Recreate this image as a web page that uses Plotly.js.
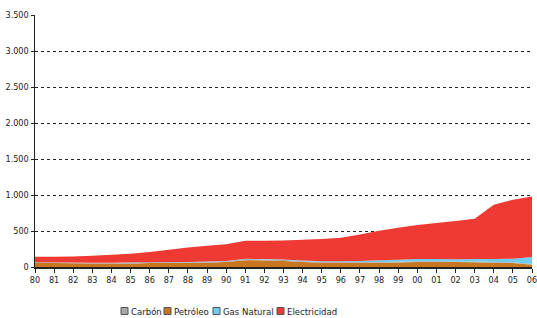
<!DOCTYPE html>
<html><head><meta charset="utf-8">
<script src="https://cdn.plot.ly/plotly-3.0.1.min.js"></script>
<style>html,body{margin:0;padding:0;background:#fff}#c{width:537px;height:318px}</style>
</head><body><div id="c"></div>
<script>
const years = [1980,1981,1982,1983,1984,1985,1986,1987,1988,1989,1990,1991,1992,1993,1994,1995,1996,1997,1998,1999,2000,2001,2002,2003,2004,2005,2006];
const yearLabels = ['80','81','82','83','84','85','86','87','88','89','90','91','92','93','94','95','96','97','98','99','00','01','02','03','04','05','06'];
const petroleo = [55,55,52,50,48,45,55,60,55,60,70,95,90,85,70,60,60,60,60,62,70,70,68,65,60,55,30];
const carbon = [10,10,10,10,10,20,10,10,10,10,10,15,15,15,10,10,10,10,10,10,10,10,10,10,10,10,10];
const gasNatural = [0,0,0,0,0,0,0,0,5,5,5,5,5,5,10,10,10,15,25,30,30,30,30,35,40,50,100];
const electricidad = [78,78,83,95,112,120,145,170,200,220,230,250,255,263,290,310,325,365,410,443,475,500,532,560,755,820,840];

const seriesNames = ['Carbón','Petróleo','Gas Natural','Electricidad'];
const seriesColors = {'Carbón':'#A8A8A8','Petróleo':'#C8761F','Gas Natural':'#6FCDEF','Electricidad':'#EE3A32'};

const F = '"DejaVu Sans Condensed", "Liberation Sans Narrow", Arial, sans-serif';
const W = 537, H = 318, M = {l:35, r:5, t:15, b:51};
const pw = W - M.l - M.r, ph = H - M.t - M.b;
const px2x = p => (p - M.l) / pw;
const py2y = p => (H - M.b - p) / ph;

function area(name, y){
  return {x: years, y: y, name: name, type:'scatter', mode:'none', stackgroup:'one',
    fillcolor:seriesColors[name], showlegend:false, hoverinfo:'skip'};
}
const data = [
  area('Petróleo', petroleo),
  area('Carbón', carbon),
  area('Gas Natural', gasNatural),
  area('Electricidad', electricidad)
];

// manual legend: swatch squares + text, laid out left to right
const legendSwatchLeft = [121, 164, 213, 277];
const legendY = 311;
const shapes = [], annotations = [];
seriesNames.forEach(function(n, i){
  const x0 = legendSwatchLeft[i];
  shapes.push({type:'rect', xref:'paper', yref:'paper',
    x0:px2x(x0), x1:px2x(x0+7), y0:py2y(legendY+3.5), y1:py2y(legendY-3.5),
    fillcolor:seriesColors[n], line:{color:'#555', width:1}});
  annotations.push({xref:'paper', yref:'paper', x:px2x(x0+9), y:py2y(legendY), xanchor:'left', yanchor:'middle',
    text:n, showarrow:false, font:{family:F, size:9.5, color:'#222'}, borderpad:0});
});

const layout = {
  width:W, height:H,
  margin:M,
  paper_bgcolor:'#fff', plot_bgcolor:'#fff',
  separators:',.',
  font:{family:F, size:9, color:'#222'},
  showlegend:false,
  shapes:shapes, annotations:annotations,
  xaxis:{range:[1980,2006], tickvals:years, ticktext:yearLabels, showgrid:false,
    showline:true, linecolor:'#222', linewidth:1.5, ticks:'outside', ticklen:4, tickcolor:'#222',
    zeroline:false, fixedrange:true, ticklabeloverflow:'allow', tickfont:{family:F, size:9, color:'#222'}},
  yaxis:{range:[0,3500], dtick:500, tickformat:',d', showgrid:true, gridcolor:'#222', griddash:'dot', gridwidth:1,
    showline:true, linecolor:'#222', linewidth:1.5, ticks:'outside', ticklen:3, tickcolor:'#222',
    zeroline:false, fixedrange:true, tickfont:{family:F, size:9, color:'#222'}}
};
Plotly.newPlot('c', data, layout, {displayModeBar:false, staticPlot:true});
</script></body></html>
